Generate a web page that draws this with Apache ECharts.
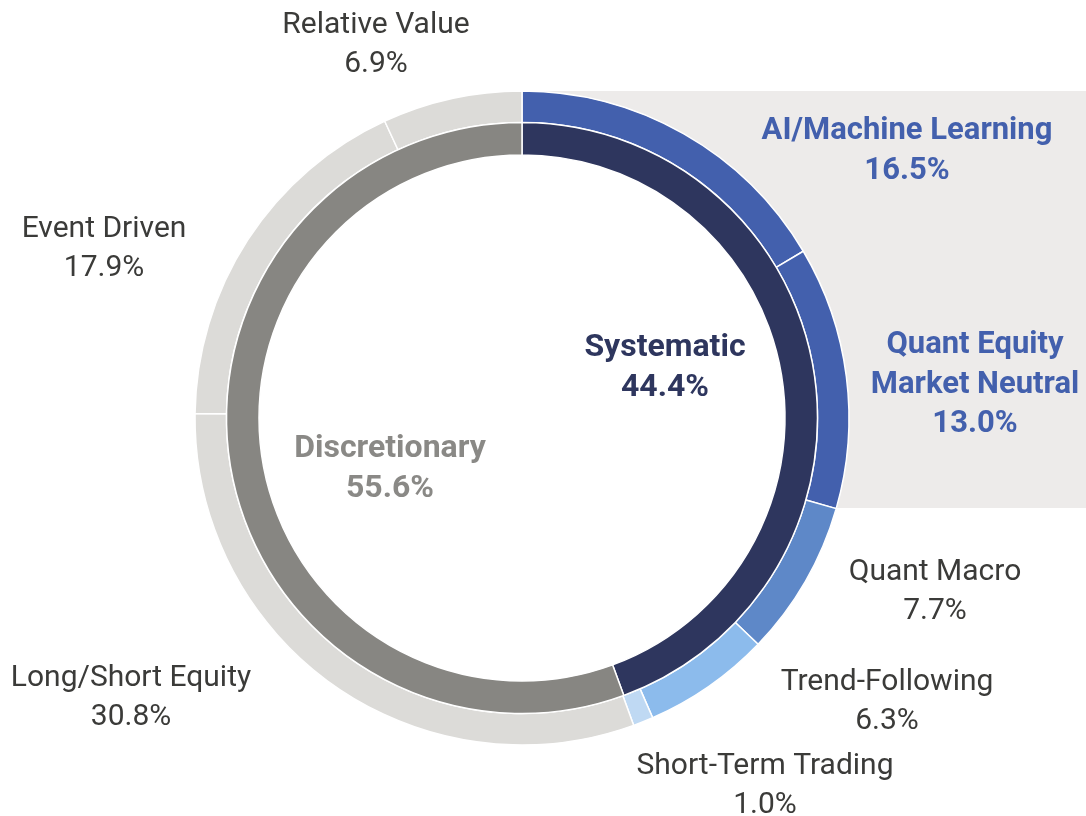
<!DOCTYPE html>
<html>
<head>
<meta charset="utf-8">
<style>
  html, body { margin: 0; padding: 0; background: #ffffff; }
  #chart { width: 1086px; height: 816px; }
</style>
<script src="https://cdn.jsdelivr.net/npm/echarts@6/dist/echarts.min.js"></script>
</head>
<body>
<div id="chart"></div>
<script>
// ---- data ----
var innerCategories = ['Systematic', 'Discretionary'];
var innerValues = [44.4, 55.6];

var outerCategories = ['AI/Machine Learning', 'Quant Equity\nMarket Neutral', 'Quant Macro', 'Trend-Following', 'Short-Term Trading', 'Long/Short Equity', 'Event Driven', 'Relative Value'];
var outerValues = [16.5, 13.0, 7.7, 6.3, 1.0, 30.8, 17.9, 6.9];

// ---- styles / layout (kept apart from data) ----
var innerColors = ['#2E365E', '#878682'];
var innerLabelColors = ['#2E365E', '#8A8986'];
var outerColors = ['#4360AD', '#4360AD', '#5E88C8', '#8CBBEC', '#BFD9F3', '#DCDBD8', '#DCDBD8', '#DCDBD8'];
var outerLabelColors = ['#4360AD', '#4360AD', '#3B3B39', '#3B3B39', '#3B3B39', '#3B3B39', '#3B3B39', '#3B3B39'];
var outerLabelBold = [true, true, false, false, false, false, false, false];
var outerLabelPos = [[907, 151], [975, 385], [935, 592], [887, 702], [765, 786], [131, 698], [104, 249], [376, 45]];
var innerLabelPos = [[665, 368], [390, 469]];

var CX = 522, CY = 418, R_OUT = 327;
var FONT = 'Roboto, "Noto Sans", sans-serif';
var FS = 30, FS_BOLD = 32, LH = 39.5;

function fmt(v) { return v.toFixed(1) + '%'; }

var chart = echarts.init(document.getElementById('chart'), null, { renderer: 'canvas' });

var outerData = outerCategories.map(function (name, i) {
  return {
    name: name,
    value: outerValues[i],
    itemStyle: { color: outerColors[i] },
    label: {
      color: outerLabelColors[i],
      fontWeight: outerLabelBold[i] ? 'bold' : 'normal',
      fontSize: outerLabelBold[i] ? FS_BOLD - 1 : FS
    }
  };
});
var innerData = innerCategories.map(function (name, i) {
  return {
    name: name,
    value: innerValues[i],
    itemStyle: { color: innerColors[i] },
    label: { color: innerLabelColors[i] }
  };
});

var option = {
  backgroundColor: '#ffffff',
  animation: false,
  graphic: [
    {
      type: 'rect',
      z: -10,
      silent: true,
      shape: { x: CX, y: CY - R_OUT, width: 1086 - CX, height: 508 - (CY - R_OUT) },
      style: { fill: '#EDEBEA' }
    },
    {
      type: 'circle',
      z: -9,
      silent: true,
      shape: { cx: CX, cy: CY, r: R_OUT },
      style: { fill: '#ffffff' }
    }
  ],
  series: [
    {
      type: 'pie',
      name: 'outer',
      center: [CX, CY],
      radius: [295.5, R_OUT],
      startAngle: 90,
      clockwise: true,
      avoidLabelOverlap: false,
      silent: true,
      itemStyle: { borderColor: '#ffffff', borderWidth: 1.5 },
      label: {
        show: true,
        position: 'outside',
        fontFamily: FONT,
        fontSize: FS,
        lineHeight: LH,
        align: 'center',
        formatter: function (p) { return p.name + '\n' + fmt(p.value); }
      },
      labelLine: { show: false },
      labelLayout: function (p) {
        var pos = outerLabelPos[p.dataIndex];
        return { x: pos[0], y: pos[1], align: 'center', verticalAlign: 'middle', hideOverlap: false };
      },
      data: outerData
    },
    {
      type: 'pie',
      name: 'inner',
      center: [CX, CY],
      radius: [263, 295.5],
      startAngle: 90,
      clockwise: true,
      avoidLabelOverlap: false,
      silent: true,
      itemStyle: { borderColor: '#ffffff', borderWidth: 1.5 },
      label: {
        show: true,
        position: 'inside',
        fontFamily: FONT,
        fontSize: FS_BOLD,
        fontWeight: 'bold',
        lineHeight: LH,
        align: 'center',
        formatter: function (p) { return p.name + '\n' + fmt(p.value); }
      },
      labelLine: { show: false },
      labelLayout: function (p) {
        var pos = innerLabelPos[p.dataIndex];
        return { x: pos[0], y: pos[1], align: 'center', verticalAlign: 'middle', hideOverlap: false };
      },
      data: innerData
    }
  ]
};

chart.setOption(option);
</script>
</body>
</html>
